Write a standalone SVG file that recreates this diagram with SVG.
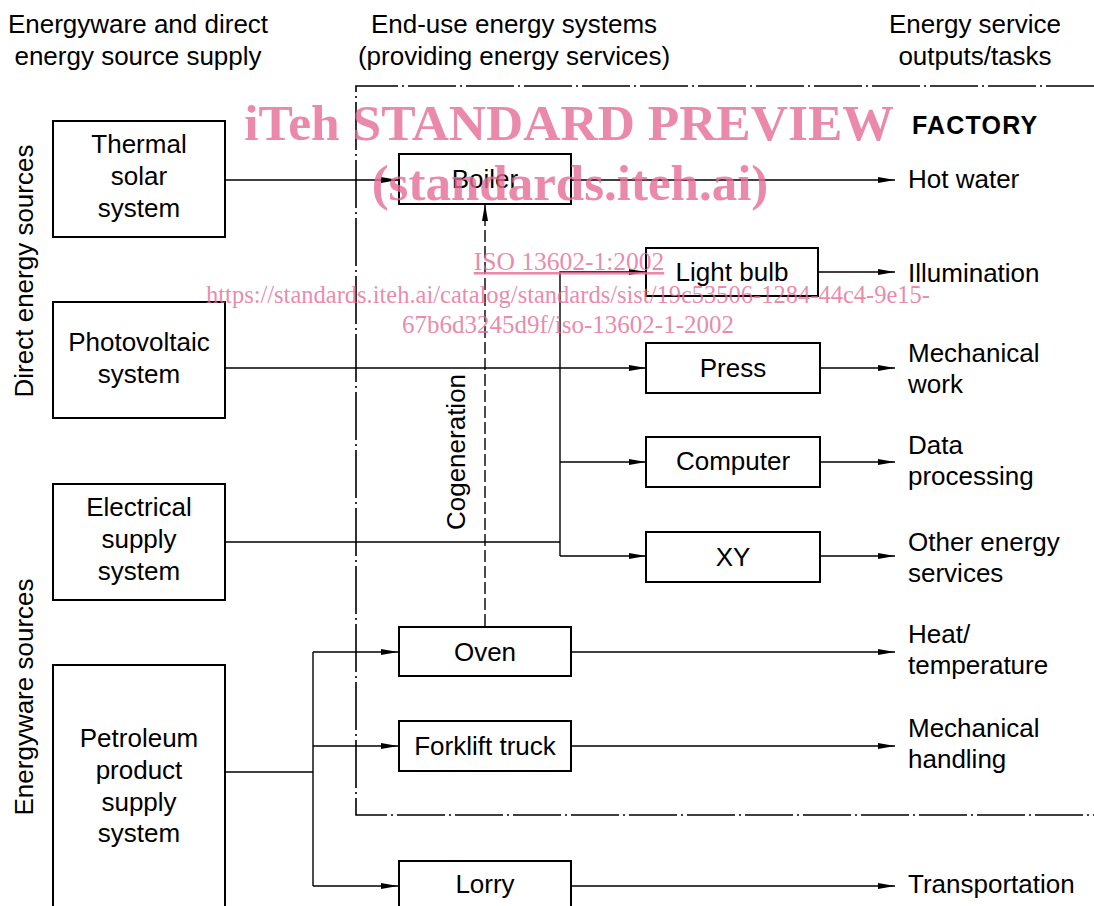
<svg xmlns="http://www.w3.org/2000/svg" width="1094" height="906" viewBox="0 0 1094 906">
<style>
text{font-family:"Liberation Sans",Arial,sans-serif;font-size:26px;fill:#000}
.c{text-anchor:middle}
.box{fill:#fff;stroke:#000;stroke-width:2}
.ln{fill:none;stroke:#000;stroke-width:1.4}
.arr{marker-end:url(#ah)}
.dd{fill:none;stroke:#000;stroke-width:1.6;stroke-dasharray:48 4 2 4}
.dash{fill:none;stroke:#000;stroke-width:1.4;stroke-dasharray:12 4}
.wm{font-family:"Liberation Serif","Times New Roman",serif;fill:#e56b95;fill-opacity:0.8}
</style>
<defs>
<marker id="ah" viewBox="0 0 17 6" refX="17" refY="3" markerWidth="17" markerHeight="6" markerUnits="userSpaceOnUse" orient="auto">
<path d="M0,0 L17,3 L0,6 z" fill="#000"/>
</marker>
</defs>
<rect width="1094" height="906" fill="#fff"/>

<g id="headers">
<text class="c" x="138" y="33">Energyware and direct</text>
<text class="c" x="138" y="65">energy source supply</text>
<text class="c" x="514" y="33">End-use energy systems</text>
<text class="c" x="514" y="65">(providing energy services)</text>
<text class="c" x="975" y="33">Energy service</text>
<text class="c" x="975" y="65">outputs/tasks</text>
<text class="c" transform="translate(33,271) rotate(-90)">Direct energy sources</text>
<text class="c" transform="translate(33,697) rotate(-90)">Energyware sources</text>
</g>

<g id="factory">
<path class="dd" d="M1094,86 H356 V815 H1094"/>
<text x="912" y="134" style="font-weight:bold;font-size:25px;letter-spacing:1.2px">FACTORY</text>
</g>

<g id="connectors">
<line class="ln arr" x1="225" y1="180" x2="398" y2="180"/>
<line class="ln arr" x1="571" y1="180" x2="895" y2="180"/>
<path class="ln arr" d="M560,556 V272 H646"/>
<line class="ln arr" x1="818" y1="272" x2="895" y2="272"/>
<line class="ln arr" x1="225" y1="368" x2="646" y2="368"/>
<line class="ln arr" x1="820" y1="368" x2="895" y2="368"/>
<line class="ln arr" x1="560" y1="462" x2="646" y2="462"/>
<line class="ln arr" x1="820" y1="462" x2="895" y2="462"/>
<line class="ln" x1="225" y1="542" x2="560" y2="542"/>
<line class="ln arr" x1="560" y1="556" x2="646" y2="556"/>
<line class="ln arr" x1="820" y1="556" x2="895" y2="556"/>
<line class="dash arr" x1="485" y1="626" x2="485" y2="204"/>
<line class="ln" x1="225" y1="772" x2="313" y2="772"/>
<line class="ln" x1="313" y1="652" x2="313" y2="886"/>
<line class="ln arr" x1="313" y1="652" x2="398" y2="652"/>
<line class="ln arr" x1="313" y1="746" x2="398" y2="746"/>
<line class="ln arr" x1="313" y1="886" x2="398" y2="886"/>
<line class="ln arr" x1="571" y1="652" x2="895" y2="652"/>
<line class="ln arr" x1="571" y1="746" x2="895" y2="746"/>
<line class="ln arr" x1="571" y1="886" x2="895" y2="886"/>
<text class="c" transform="translate(465,452) rotate(-90)">Cogeneration</text>
</g>

<g id="thermal-solar">
<rect class="box" x="53" y="121" width="172" height="116"/>
<text class="c" x="139" y="153">Thermal</text>
<text class="c" x="139" y="185">solar</text>
<text class="c" x="139" y="217">system</text>
</g>
<g id="photovoltaic">
<rect class="box" x="53" y="302" width="172" height="116"/>
<text class="c" x="139" y="351">Photovoltaic</text>
<text class="c" x="139" y="383">system</text>
</g>
<g id="electrical">
<rect class="box" x="53" y="484" width="172" height="116"/>
<text class="c" x="139" y="516">Electrical</text>
<text class="c" x="139" y="548">supply</text>
<text class="c" x="139" y="580">system</text>
</g>
<g id="petroleum">
<rect class="box" x="53" y="665" width="172" height="260"/>
<text class="c" x="139" y="747">Petroleum</text>
<text class="c" x="139" y="779">product</text>
<text class="c" x="139" y="811">supply</text>
<text class="c" x="139" y="842">system</text>
</g>

<g id="boiler">
<rect class="box" x="399" y="154" width="172" height="50"/>
<text class="c" x="485" y="188">Boiler</text>
</g>
<g id="light-bulb">
<rect class="box" x="646" y="248" width="172" height="48"/>
<text class="c" x="732" y="281">Light bulb</text>
</g>
<g id="press">
<rect class="box" x="646" y="343" width="174" height="50"/>
<text class="c" x="733" y="377">Press</text>
</g>
<g id="computer">
<rect class="box" x="646" y="437" width="174" height="50"/>
<text class="c" x="733" y="470">Computer</text>
</g>
<g id="xy">
<rect class="box" x="646" y="532" width="174" height="50"/>
<text class="c" x="733" y="566">XY</text>
</g>
<g id="oven">
<rect class="box" x="399" y="627" width="172" height="49"/>
<text class="c" x="485" y="661">Oven</text>
</g>
<g id="forklift">
<rect class="box" x="399" y="721" width="172" height="50"/>
<text class="c" x="485" y="755">Forklift truck</text>
</g>
<g id="lorry">
<rect class="box" x="399" y="861" width="172" height="50"/>
<text class="c" x="485" y="893">Lorry</text>
</g>

<g id="outputs">
<text x="908" y="188">Hot water</text>
<text x="908" y="282">Illumination</text>
<text x="908" y="362">Mechanical</text>
<text x="908" y="393">work</text>
<text x="908" y="454">Data</text>
<text x="908" y="485">processing</text>
<text x="908" y="551">Other energy</text>
<text x="908" y="582">services</text>
<text x="908" y="643">Heat/</text>
<text x="908" y="674">temperature</text>
<text x="908" y="737">Mechanical</text>
<text x="908" y="768">handling</text>
<text x="908" y="893">Transportation</text>
</g>

<g id="watermark">
<text class="wm c" x="569" y="140" style="font-size:51.5px;font-weight:bold">iTeh STANDARD PREVIEW</text>
<text class="wm c" x="570" y="200" style="font-size:51px;font-weight:bold">(standards.iteh.ai)</text>
<text class="wm c" x="569" y="270" style="font-size:25.5px;text-decoration:underline">ISO 13602-1:2002</text>
<text class="wm c" x="568" y="303" style="font-size:24.5px">https://standards.iteh.ai/catalog/standards/sist/19c53506-1284-44c4-9e15-</text>
<text class="wm c" x="568" y="333" style="font-size:25px">67b6d3245d9f/iso-13602-1-2002</text>
</g>
</svg>
